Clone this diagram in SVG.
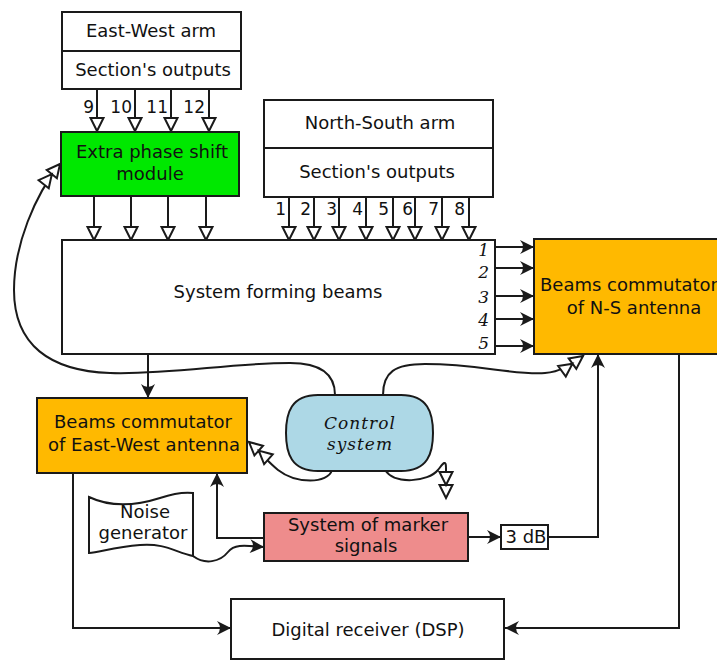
<svg xmlns="http://www.w3.org/2000/svg" width="717" height="660" viewBox="0 0 717 660">
<style>
.box{stroke:#1a1a1a;stroke-width:2}
.t{font-family:"DejaVu Sans",Verdana,sans-serif;font-size:18px;fill:#111;text-anchor:middle}
.n{font-family:"DejaVu Sans",Verdana,sans-serif;font-size:17px;fill:#111;text-anchor:end}
.i{font-family:"DejaVu Serif",serif;font-style:italic;font-size:17px;fill:#111}
.cs{font-family:"DejaVu Serif",serif;font-style:italic;font-size:17px;fill:#111;text-anchor:middle;letter-spacing:1px}
.c{fill:none;stroke:#1a1a1a;stroke-width:2}
.o{marker-end:url(#open)}
.d{marker-end:url(#dbl)}
.f{marker-end:url(#fill)}
</style>
<defs>
<marker id="open" markerUnits="userSpaceOnUse" markerWidth="20" markerHeight="20" viewBox="-16 -10 20 20" refX="0" refY="0" orient="auto"><path d="M0,0 L-13,-6.5 L-13,6.5 Z" fill="#fff" stroke="#1a1a1a" stroke-width="2"/></marker>
<marker id="dbl" markerUnits="userSpaceOnUse" markerWidth="34" markerHeight="20" viewBox="-30 -10 34 20" refX="0" refY="0" orient="auto"><path d="M0,0 L-13,-6.5 L-13,6.5 Z M-13,0 L-26,-6.5 L-26,6.5 Z" fill="#fff" stroke="#1a1a1a" stroke-width="2"/></marker>
<marker id="fill" markerUnits="userSpaceOnUse" markerWidth="20" markerHeight="20" viewBox="-16 -10 20 20" refX="0" refY="0" orient="auto"><path d="M0,0 L-14,-7 Q-8,0 -14,7 Z" fill="#1a1a1a"/></marker>
</defs>
<rect width="717" height="660" fill="#fff"/>

<g id="connectors">
<path class="c o" d="M97,89 V131"/>
<path class="c o" d="M135,89 V131"/>
<path class="c o" d="M171,89 V131"/>
<path class="c o" d="M209,89 V131"/>
<path class="c o" d="M94,196 V240"/>
<path class="c o" d="M131,196 V240"/>
<path class="c o" d="M168,196 V240"/>
<path class="c o" d="M206,196 V240"/>
<path class="c o" d="M289,197 V240"/>
<path class="c o" d="M314,197 V240"/>
<path class="c o" d="M339,197 V240"/>
<path class="c o" d="M366,197 V240"/>
<path class="c o" d="M393,197 V240"/>
<path class="c o" d="M415,197 V240"/>
<path class="c o" d="M442,197 V240"/>
<path class="c o" d="M469,197 V240"/>
<path class="c f" d="M495,247 H534"/>
<path class="c f" d="M495,268 H534"/>
<path class="c f" d="M495,296 H534"/>
<path class="c f" d="M495,319 H534"/>
<path class="c f" d="M495,346 H534"/>
<path class="c f" d="M148,354 V398"/>
<path class="c d" d="M335,395 C335,372 318,363 290,363 C230,363 170,375 110,373 C50,371 14,345 14,290 C14,245 35,195 60,164"/>
<path class="c d" d="M383,395 C383,372 395,364 425,364 C480,364 510,375 545,373 C560,372 572,364 583,356"/>
<path class="c d" d="M332,470 C328,484 296,484 278,470 C268,462 258,450 249,442"/>
<path class="c d" d="M385,470 C395,485 428,482 438,470 C442,465 446,458 446,468 L446,498"/>
<path class="c f" d="M468,537 H501"/>
<path class="c f" d="M548,537 H598 V354"/>
<path class="c f" d="M264,538 H217 V473"/>
<path class="c f" d="M193,556 C205,565 220,562 228,552 C235,543 248,546 264,547"/>
<path class="c f" d="M679,354 V628 H505"/>
<path class="c f" d="M73,473 V628 H231"/>
</g>

<g id="ew-arm">
<rect class="box" x="62" y="12" width="179" height="77" fill="#fff"/>
<line class="box" x1="62" y1="51" x2="241" y2="51"/>
<text class="t" x="151" y="37">East-West arm</text>
<text class="t" x="153" y="76">Section's outputs</text>
<text class="n" x="94" y="113">9</text>
<text class="n" x="132" y="113">10</text>
<text class="n" x="168" y="113">11</text>
<text class="n" x="205" y="113">12</text>
</g>

<g id="extra-phase">
<rect class="box" x="61" y="132" width="178" height="64" fill="#00e800"/>
<text class="t" x="152" y="158">Extra phase shift</text>
<text class="t" x="150" y="180">module</text>
</g>

<g id="ns-arm">
<rect class="box" x="264" y="100" width="229" height="97" fill="#fff"/>
<line class="box" x1="264" y1="148" x2="493" y2="148"/>
<text class="t" x="380" y="129">North-South arm</text>
<text class="t" x="377" y="178">Section's outputs</text>
<text class="n" x="286" y="215">1</text>
<text class="n" x="311" y="215">2</text>
<text class="n" x="337" y="215">3</text>
<text class="n" x="363" y="215">4</text>
<text class="n" x="389" y="215">5</text>
<text class="n" x="413" y="215">6</text>
<text class="n" x="439" y="215">7</text>
<text class="n" x="465" y="215">8</text>
</g>

<g id="forming">
<rect class="box" x="62" y="240" width="433" height="114" fill="#fff"/>
<text class="t" x="278" y="298">System forming beams</text>
<text class="i" x="489" y="256" text-anchor="end">1</text>
<text class="i" x="489" y="278" text-anchor="end">2</text>
<text class="i" x="489" y="303" text-anchor="end">3</text>
<text class="i" x="489" y="326" text-anchor="end">4</text>
<text class="i" x="489" y="349" text-anchor="end">5</text>
</g>

<g id="ns-commutator">
<rect class="box" x="534" y="239" width="196" height="115" fill="#ffb900"/>
<text class="t" x="629" y="291">Beams commutator</text>
<text class="t" x="634" y="314">of N-S antenna</text>
</g>

<g id="ew-commutator">
<rect class="box" x="37" y="398" width="210" height="75" fill="#ffb900"/>
<text class="t" x="143" y="428">Beams commutator</text>
<text class="t" x="144" y="451">of East-West antenna</text>
</g>

<g id="control">
<path class="box" d="M318,395 L401,395 C428,395 433,413 433,433 C433,453 428,471 401,471 L318,471 C291,471 286,453 286,433 C286,413 291,395 318,395 Z" fill="#add8e6"/>
<text class="cs" x="360" y="429">Control</text>
<text class="cs" x="360" y="450">system</text>
</g>

<g id="noise">
<path class="box" d="M89,497 C110,507 135,506 160,498 C175,493 185,492 193,493 L193,556 C175,552 165,543 140,545 C115,547 100,552 89,553 Z" fill="#fff"/>
<text class="t" x="145" y="518">Noise</text>
<text class="t" x="143" y="539">generator</text>
</g>

<g id="marker">
<rect class="box" x="264" y="513" width="204" height="48" fill="#ee8c8c"/>
<text class="t" x="368" y="531">System of marker</text>
<text class="t" x="366" y="552">signals</text>
</g>

<g id="attenuator">
<rect class="box" x="501" y="525" width="47" height="24" fill="#fff"/>
<text class="t" x="526" y="543">3 dB</text>
</g>

<g id="dsp">
<rect class="box" x="231" y="599" width="273" height="60" fill="#fff"/>
<text class="t" x="368" y="636">Digital receiver (DSP)</text>
</g>
</svg>
